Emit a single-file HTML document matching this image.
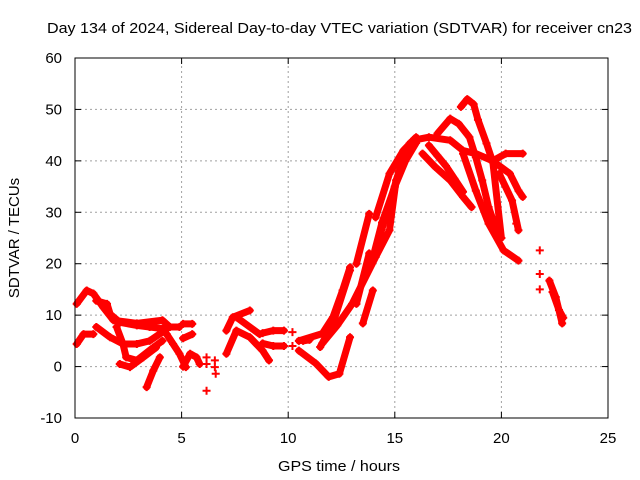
<!DOCTYPE html>
<html><head><meta charset="utf-8"><style>
body{margin:0;background:#fff;}
svg{display:block;font-family:"Liberation Sans",sans-serif;}
</style></head><body>
<svg id="chart" width="640" height="480" viewBox="0 0 640 480">
<text x="47" y="33" font-size="15" textLength="585" lengthAdjust="spacingAndGlyphs">Day 134 of 2024, Sidereal Day-to-day VTEC variation (SDTVAR) for receiver cn23</text>
<text x="339" y="471" font-size="15" textLength="122" lengthAdjust="spacingAndGlyphs" text-anchor="middle">GPS time / hours</text>
<text transform="translate(19,238) rotate(-90)" font-size="15" text-anchor="middle">SDTVAR / TECUs</text>
<g id="grid"></g>
<g id="marks"></g>
<g id="axes"></g>
</svg>
<script>
const xTicks=[0,5,10,15,20,25];
const yTicks=[-10,0,10,20,30,40,50,60];
const tracks=[
[[0.08,12.2],[0.55,14.8],[0.86,14.2],[1.33,11.5],[1.8,9],[2.9,8.4],[4.1,9],[4.45,7.7],[4.9,7.7]],
[[1.0,12.8],[1.5,12.2],[1.65,10.2],[2.1,8.6],[2.9,8],[3.5,7.7],[4.3,7.3]],
[[0.08,4.4],[0.4,6.3],[0.86,6.3]],
[[1.0,7.7],[1.65,5.7],[2.25,4.4],[2.9,4.4],[3.5,5],[4.1,6.7]],
[[1.95,7.7],[2.25,4.4],[2.4,1.8],[2.9,1.2],[3.67,3.7],[4.1,5]],
[[2.1,0.5],[2.58,-0.1],[3.2,1.8],[3.8,3.7]],
[[3.36,-4],[3.67,-0.8],[3.98,1.8]],
[[4.3,6.3],[4.6,4.4],[4.9,2.5],[5.2,-0.1]],
[[5.07,0],[5.4,2.5],[5.7,1.8],[5.85,0.5]],
[[5.07,8.3],[5.5,8.3]],
[[5.07,5.5],[5.5,6.3]],
[[7.1,7],[7.4,9.6],[8.2,10.9]],
[[7.57,9.6],[8.66,6.3]],
[[7.1,2.5],[7.57,7],[8.2,5.7],[8.8,3.1],[9.1,1.2]],
[[8.8,6.5],[9.3,7],[9.8,7]],
[[8.8,4.5],[9.3,4],[9.8,4]],
[[10.7,5],[11.0,5.2]],
[[10.5,5],[11.6,6.4],[12.1,9.6],[12.55,14.8],[12.9,19.3]],
[[11.5,3.8],[12.1,8.4],[12.9,18.7]],
[[11.6,4.5],[12.3,8],[13.0,12.2],[14.1,21.3],[14.75,26.5],[15.06,36.2],[15.7,43.4],[16,44]],
[[10.5,3.1],[11.3,0.6],[11.9,-2],[12.4,-1.4],[12.9,5.7]],
[[13.2,20],[13.8,29.7]],
[[13.2,12.2],[13.8,22]],
[[13.5,8.4],[13.97,14.8]],
[[13.9,20],[14.4,28],[15,35],[15.5,40],[16,43.5]],
[[14.1,29],[14.75,37.5],[15.4,42],[16,44.6]],
[[14.2,24],[14.7,31],[15.2,38],[15.85,44],[16.6,44.6],[17.6,44],[18.2,42],[18.8,41.4],[19.6,40],[20.2,41.4],[21.0,41.4]],
[[19.75,39.5],[20.4,37.5],[20.8,34.2],[21,33]],
[[16.3,41.4],[16.9,38.8],[17.6,36.2],[18.2,33],[18.6,31]],
[[16.6,43],[17.0,41],[17.4,39],[17.8,36.5],[18.2,34]],
[[17.0,45.3],[17.6,48.2],[18.0,47.2],[18.5,44.6],[18.8,40.7],[19.1,36.2],[19.4,31],[19.9,25]],
[[18.1,50.5],[18.4,52],[18.7,51],[18.9,48],[19.3,43.4],[19.6,39.7],[20.0,25]],
[[18.2,41.4],[18.8,34.2],[19.4,27.8],[20.1,22.6],[20.8,20.6]],
[[19.9,37.5],[20.5,32.3],[20.8,26.5]],
[[22.25,16.7],[22.55,13.5],[22.85,8.4]],
[[22.4,14.5],[22.7,11],[22.9,9.5]]
];
const points=[[6.17,1.8],[6.17,0.5],[6.56,1.2],[6.56,-0.1],[6.6,-1.4],[6.17,-4.7],[10.2,6.7],[10.2,4],[21.8,22.6],[21.8,18],[21.8,15],[20.7,27.8]];
const X0=75,X1=608,Y0=418,Y1=58;
const sx=h=>X0+(h-0)/(25-0)*(X1-X0);
const sy=v=>Y0-(v+10)/70*(Y0-Y1);
const NS="http://www.w3.org/2000/svg";
const grid=document.getElementById('grid'),marks=document.getElementById('marks'),axes=document.getElementById('axes');
function mk(tag,attrs,parent){const e=document.createElementNS(NS,tag);for(const k in attrs)e.setAttribute(k,attrs[k]);parent.appendChild(e);return e;}
xTicks.forEach(t=>{const x=sx(t);
 if(t>0&&t<25){const g=mk('line',{x1:x,x2:x,y1:Y0,y2:Y1,stroke:'#a0a0a0','stroke-dasharray':'2,3'},grid);
 }
 mk('line',{x1:x,x2:x,y1:Y0,y2:Y0-6,stroke:'#000'},axes);
 mk('line',{x1:x,x2:x,y1:Y1,y2:Y1+6,stroke:'#000'},axes);
 const l=mk('text',{x:x,y:Y0+25,'font-size':15,'text-anchor':'middle'},axes);l.textContent=t;
 
});
yTicks.forEach(t=>{const y=sy(t);
 if(t>-10&&t<60){const g=mk('line',{x1:X0,x2:X1,y1:y,y2:y,stroke:'#a0a0a0','stroke-dasharray':'2,3'},grid);
 }
 mk('line',{x1:X0,x2:X0+6,y1:y,y2:y,stroke:'#000'},axes);
 mk('line',{x1:X1,x2:X1-6,y1:y,y2:y,stroke:'#000'},axes);
 const l=mk('text',{x:X0-13,y:y+5,'font-size':15,'text-anchor':'end'},axes);l.textContent=t;
 
});
const fr=mk('rect',{x:X0,y:Y1,width:X1-X0,height:Y0-Y1,fill:'none',stroke:'#000'},axes);

function plus(h,v){const x=sx(h),y=sy(v);
 const p=mk('path',{d:`M${x-4},${y}H${x+4}M${x},${y-4}V${y+4}`,stroke:'#f00','stroke-width':2},marks);
 }
tracks.forEach(tr=>{
 const pl=mk('polyline',{points:tr.map(p=>sx(p[0])+','+sy(p[1])).join(' '),fill:'none',stroke:'#f00','stroke-width':7,'stroke-linejoin':'round','stroke-linecap':'round'},marks);
 
 tr.forEach(p=>plus(p[0],p[1]));
});
points.forEach(p=>plus(p[0],p[1]));
</script>
</body></html>
